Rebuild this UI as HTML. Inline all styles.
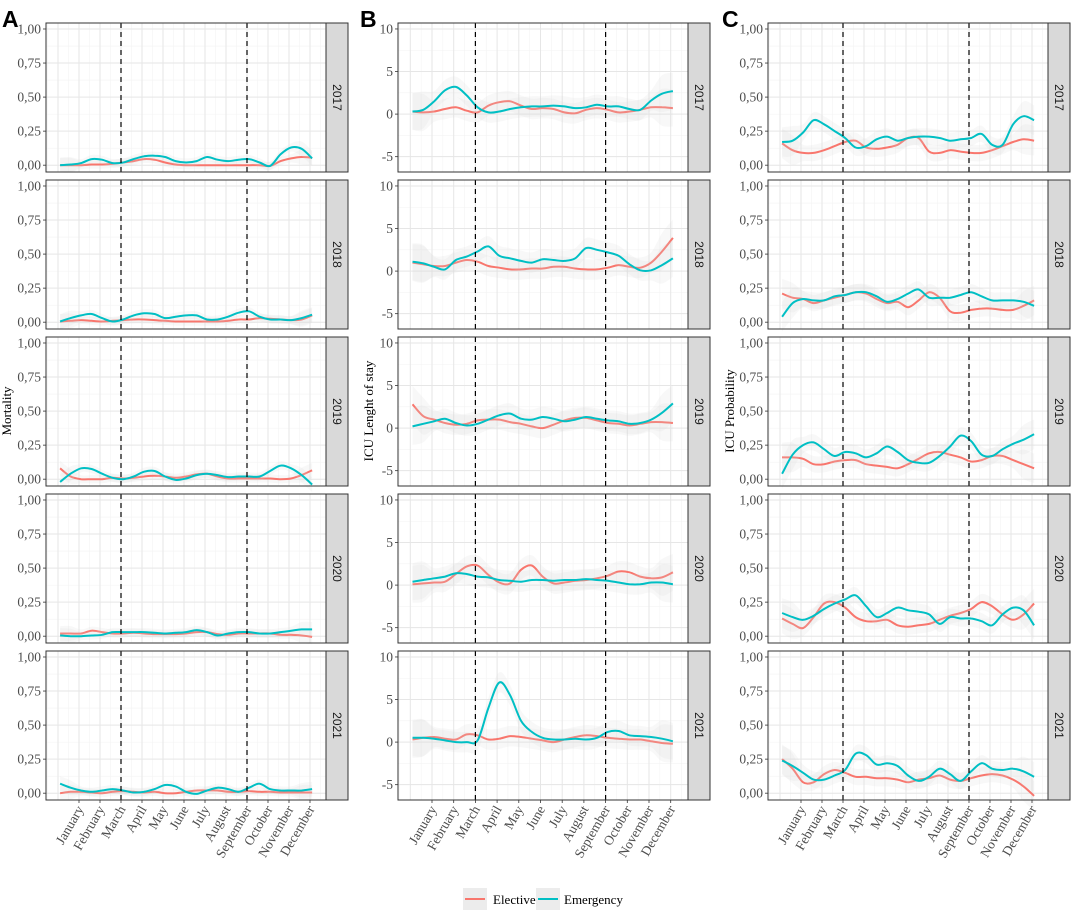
<!DOCTYPE html>
<html><head><meta charset="utf-8">
<style>
body{margin:0;background:#fff;}
svg{display:block;font-family:"Liberation Serif",serif;}
.lbl{font-family:"Liberation Sans",sans-serif;font-weight:bold;font-size:23px;fill:#000;}
</style></head>
<body>
<svg id="fig" width="1072" height="912" viewBox="0 0 1072 912" xmlns="http://www.w3.org/2000/svg"></svg>
<script>
const months = ["January","February","March","April","May","June","July","August","September","October","November","December"];
const years = ["2017","2018","2019","2020","2021"];
const knotMonths = [0.1,0.6,1.1,1.6,2.1,2.6,3.1,3.6,4.1,4.6,5.1,5.6,6.1,6.6,7.1,7.6,8.1,8.6,9.1,9.6,10.1,10.6,11.1,11.6,12.1];
const dashedMonths = [3,9];
const ticksA = [0,0.25,0.5,0.75,1];
const tickLabelsA = ["0,00","0,25","0,50","0,75","1,00"];
const ticksB = [-5,0,5,10];
const tickLabelsB = ["-5","0","5","10"];
// Panel A: Mortality
const mortEmer2017=[0,0.005,0.015,0.045,0.04,0.015,0.02,0.045,0.065,0.07,0.06,0.03,0.02,0.03,0.06,0.04,0.03,0.04,0.045,0.02,-0.005,0.08,0.13,0.12,0.05];
const mortElec2017=[0,0,0,0.005,0.005,0.01,0.02,0.03,0.045,0.04,0.02,0.005,0,0,0,0,0,0,0,0,-0.005,0.03,0.05,0.06,0.055];
const mortEmer2018=[0.005,0.03,0.05,0.06,0.03,0.005,0.02,0.05,0.065,0.06,0.03,0.04,0.05,0.05,0.02,0.02,0.04,0.07,0.08,0.04,0.02,0.02,0.015,0.03,0.055];
const mortElec2018=[0.005,0.01,0.015,0.01,0.005,0.01,0.015,0.02,0.02,0.015,0.01,0.005,0.005,0.005,0.005,0.005,0.01,0.02,0.02,0.03,0.025,0.02,0.015,0.02,0.05];
const mortEmer2019=[-0.02,0.04,0.08,0.075,0.04,0.01,0,0.02,0.055,0.06,0.02,-0.005,0.005,0.03,0.04,0.03,0.015,0.02,0.02,0.02,0.06,0.1,0.08,0.03,-0.04];
const mortElec2019=[0.08,0.02,0,0,0,0.01,0.005,0.01,0.02,0.025,0.02,0.01,0.02,0.035,0.04,0.02,0.005,0.005,0.005,0.005,0.005,0,0.005,0.03,0.065];
const mortEmer2020=[0.005,0,0,0.005,0.01,0.03,0.03,0.03,0.03,0.025,0.02,0.025,0.03,0.045,0.03,0.005,0.02,0.03,0.03,0.02,0.02,0.03,0.04,0.05,0.05];
const mortElec2020=[0.02,0.02,0.02,0.04,0.03,0.02,0.02,0.025,0.02,0.015,0.015,0.015,0.02,0.03,0.03,0.015,0.01,0.02,0.02,0.02,0.02,0.01,0.01,0.005,-0.005];
const mortEmer2021=[0.07,0.04,0.02,0.01,0.02,0.03,0.02,0.005,0.01,0.03,0.06,0.05,0.01,-0.005,0.02,0.04,0.03,0.01,0.04,0.07,0.03,0.02,0.02,0.02,0.03];
const mortElec2021=[0,0.01,0.01,0.005,0,0.01,0.015,0.01,0.005,0.01,0,0,0.01,0.02,0.02,0.02,0.01,0.01,0.015,0.01,0.01,0.005,0.005,0.005,0.005];
// Panel B: ICU length of stay
const losEmer2017=[0.3,0.5,1.5,2.8,3.2,2.2,0.8,0.2,0.3,0.6,0.8,0.9,0.9,1.0,0.9,0.7,0.8,1.1,0.9,0.9,0.6,0.5,1.6,2.4,2.7];
const losElec2017=[0.3,0.2,0.3,0.6,0.8,0.4,0.2,1.0,1.4,1.5,1.0,0.6,0.7,0.6,0.2,0.1,0.5,0.7,0.5,0.2,0.3,0.5,0.8,0.8,0.7];
const losEmer2018=[1.1,0.9,0.5,0.2,1.3,1.7,2.3,2.9,1.8,1.5,1.2,1.0,1.4,1.3,1.2,1.5,2.7,2.5,2.2,1.8,0.8,0.1,0.1,0.7,1.5];
const losElec2018=[1.0,0.8,0.6,0.6,1.0,1.3,1.1,0.6,0.4,0.2,0.2,0.3,0.3,0.5,0.5,0.3,0.2,0.2,0.4,0.7,0.5,0.4,1.0,2.3,3.9];
const losEmer2019=[0.2,0.5,0.8,1.1,0.6,0.3,0.5,1.0,1.5,1.7,1.1,1.0,1.3,1.1,0.8,1.0,1.3,1.1,0.9,0.8,0.5,0.6,1.0,1.8,2.9];
const losElec2019=[2.8,1.4,1.0,0.6,0.4,0.5,0.9,1.0,1.0,0.7,0.5,0.2,0.0,0.4,0.9,1.2,1.2,0.9,0.6,0.5,0.3,0.5,0.7,0.7,0.6];
const losEmer2020=[0.4,0.6,0.8,1.0,1.4,1.3,1.0,0.9,0.6,0.5,0.4,0.6,0.6,0.5,0.6,0.6,0.7,0.6,0.5,0.3,0.1,0.1,0.3,0.3,0.1];
const losElec2020=[0.1,0.2,0.3,0.4,1.3,2.2,2.3,1.2,0.3,0.2,1.8,2.3,1.0,0.2,0.3,0.5,0.6,0.8,1.1,1.6,1.5,1.0,0.8,0.9,1.5];
const losEmer2021=[0.5,0.5,0.4,0.2,0.0,0.0,0.2,4.0,7.0,5.5,2.5,1.2,0.5,0.3,0.3,0.4,0.3,0.5,1.2,1.3,0.8,0.7,0.6,0.4,0.1];
const losElec2021=[0.3,0.5,0.6,0.4,0.3,0.9,0.8,0.3,0.4,0.7,0.6,0.4,0.2,0.0,0.3,0.6,0.8,0.7,0.5,0.4,0.3,0.3,0.1,-0.1,-0.2];
// Panel C: ICU probability
const probEmer2017=[0.17,0.18,0.24,0.33,0.30,0.25,0.20,0.13,0.14,0.19,0.21,0.18,0.20,0.21,0.21,0.20,0.18,0.19,0.20,0.23,0.15,0.15,0.30,0.36,0.33];
const probElec2017=[0.16,0.11,0.09,0.09,0.11,0.14,0.17,0.18,0.13,0.12,0.13,0.15,0.20,0.20,0.10,0.09,0.11,0.10,0.09,0.09,0.11,0.14,0.17,0.19,0.18];
const probEmer2018=[0.04,0.14,0.17,0.16,0.16,0.19,0.20,0.22,0.22,0.19,0.15,0.17,0.21,0.24,0.18,0.18,0.18,0.20,0.22,0.19,0.16,0.16,0.16,0.15,0.12];
const probElec2018=[0.21,0.18,0.17,0.14,0.16,0.18,0.20,0.22,0.21,0.17,0.14,0.15,0.11,0.16,0.22,0.18,0.08,0.07,0.09,0.10,0.10,0.09,0.09,0.12,0.16];
const probEmer2019=[0.04,0.18,0.25,0.27,0.22,0.17,0.20,0.19,0.16,0.19,0.24,0.20,0.14,0.12,0.12,0.17,0.24,0.32,0.28,0.18,0.17,0.22,0.26,0.29,0.33];
const probElec2019=[0.16,0.16,0.15,0.11,0.11,0.13,0.14,0.14,0.11,0.10,0.09,0.08,0.11,0.15,0.19,0.20,0.18,0.16,0.13,0.14,0.17,0.17,0.14,0.11,0.08];
const probEmer2020=[0.17,0.14,0.12,0.15,0.20,0.24,0.27,0.30,0.22,0.14,0.17,0.21,0.19,0.18,0.16,0.09,0.14,0.13,0.13,0.11,0.08,0.16,0.21,0.19,0.08];
const probElec2020=[0.13,0.09,0.06,0.14,0.24,0.25,0.21,0.14,0.11,0.11,0.12,0.08,0.07,0.08,0.09,0.12,0.15,0.17,0.20,0.25,0.22,0.16,0.12,0.16,0.24];
const probEmer2021=[0.24,0.20,0.15,0.10,0.10,0.13,0.17,0.29,0.28,0.21,0.22,0.20,0.13,0.09,0.12,0.18,0.14,0.09,0.16,0.22,0.18,0.17,0.18,0.16,0.12];
const probElec2021=[0.25,0.18,0.08,0.08,0.14,0.17,0.15,0.12,0.12,0.11,0.11,0.10,0.08,0.10,0.11,0.13,0.10,0.09,0.11,0.13,0.14,0.13,0.10,0.05,-0.02];

const NS="http://www.w3.org/2000/svg";
const svg=document.getElementById('fig');
function mk(tag,attrs,parent){const e=document.createElementNS(NS,tag);for(const k in attrs)e.setAttribute(k,attrs[k]);(parent||svg).appendChild(e);return e;}
function smooth(pts){let d="M"+pts[0][0].toFixed(1)+","+pts[0][1].toFixed(1);
 for(let i=0;i<pts.length-1;i++){const p0=pts[Math.max(0,i-1)],p1=pts[i],p2=pts[i+1],p3=pts[Math.min(pts.length-1,i+2)];
  const c1=[p1[0]+(p2[0]-p0[0])/6,p1[1]+(p2[1]-p0[1])/6],c2=[p2[0]-(p3[0]-p1[0])/6,p2[1]-(p3[1]-p1[1])/6];
  d+="C"+c1[0].toFixed(1)+","+c1[1].toFixed(1)+" "+c2[0].toFixed(1)+","+c2[1].toFixed(1)+" "+p2[0].toFixed(1)+","+p2[1].toFixed(1);}
 return d;}

const panelTops=[23,180,337,494,651], PH=149;
const cols=[
 {letter:"A",lx:2,x0:46,x1:326,jan:79,step:21,ymin:-0.05,ymax:1.044,ticks:ticksA,tl:tickLabelsA,minor:0.125,title:"Mortality",tx:11,band:0.03,name:"mortality",
  emer:[mortEmer2017,mortEmer2018,mortEmer2019,mortEmer2020,mortEmer2021],elec:[mortElec2017,mortElec2018,mortElec2019,mortElec2020,mortElec2021]},
 {letter:"B",lx:360,x0:398,x1:688,jan:432,step:21.7,ymin:-6.8,ymax:10.7,ticks:ticksB,tl:tickLabelsB,minor:2.5,title:"ICU Lenght of stay",tx:373,band:1.2,name:"icu-length-of-stay",
  emer:[losEmer2017,losEmer2018,losEmer2019,losEmer2020,losEmer2021],elec:[losElec2017,losElec2018,losElec2019,losElec2020,losElec2021]},
 {letter:"C",lx:722,x0:768,x1:1048,jan:801,step:21,ymin:-0.05,ymax:1.044,ticks:ticksA,tl:tickLabelsA,minor:0.125,title:"ICU Probability",tx:734,band:0.06,name:"icu-probability",
  emer:[probEmer2017,probEmer2018,probEmer2019,probEmer2020,probEmer2021],elec:[probElec2017,probElec2018,probElec2019,probElec2020,probElec2021]}
];

cols.forEach(c=>{
 const xs=m=>c.jan+(m-1)*c.step;
 const lt=mk('text',{x:c.lx,y:27,class:'lbl'});lt.textContent=c.letter;
 
 
 const yt=mk('text',{x:c.tx,y:411,'font-size':13,fill:'#000','text-anchor':'middle',transform:`rotate(-90 ${c.tx} 411)`});
 yt.textContent=c.title;
 
 
 years.forEach((yr,r)=>{
  const top=panelTops[r],bot=top+PH;
  const ys=v=>bot-(v-c.ymin)/(c.ymax-c.ymin)*PH;
  const g=mk('g',{});
  
  
  mk('rect',{x:c.x0,y:top,width:c.x1-c.x0,height:PH,fill:'#fff'},g);
  for(let v=Math.ceil(c.ymin/c.minor)*c.minor;v<=c.ymax;v+=c.minor){mk('line',{x1:c.x0,x2:c.x1,y1:ys(v),y2:ys(v),stroke:'#f3f3f3','stroke-width':0.6},g);}
  for(let m=-0.5;m<=13.5;m+=0.5){const x=xs(m);if(x>c.x0&&x<c.x1)mk('line',{x1:x,x2:x,y1:top,y2:bot,stroke:(m%1===0)?'#e6e6e6':'#f3f3f3','stroke-width':(m%1===0)?1:0.6},g);}
  c.ticks.forEach((v,i)=>{mk('line',{x1:c.x0,x2:c.x1,y1:ys(v),y2:ys(v),stroke:'#e6e6e6','stroke-width':1},g);
   mk('line',{x1:c.x0-3,x2:c.x0,y1:ys(v),y2:ys(v),stroke:'#333','stroke-width':0.8},g);
   const t=mk('text',{x:c.x0-5,y:ys(v)+4.5,'font-size':13.5,fill:'#4d4d4d','text-anchor':'end'},g);t.textContent=c.tl[i];
   
   });
  [[c.elec[r],'#F8766D','elective'],[c.emer[r],'#00BFC4','emergency']].forEach(([vals,col,nm])=>{
   const up=vals.map((v,i)=>{const e=(i<2||i>22)?1.8:1;return [xs(knotMonths[i]),ys(v+c.band*e)];});
   const dn=vals.map((v,i)=>{const e=(i<2||i>22)?1.8:1;return [xs(knotMonths[i]),ys(v-c.band*e)];}).reverse();
   const rb=mk('path',{d:smooth(up)+"L"+smooth(dn).slice(1)+"Z",fill:'#d6d6d6','fill-opacity':0.18},g);
   
   
   const ln=mk('path',{d:smooth(vals.map((v,i)=>[xs(knotMonths[i]),ys(v)])),fill:'none',stroke:col,'stroke-width':2},g);
   
   
  });
  dashedMonths.forEach(m=>{mk('line',{x1:xs(m),x2:xs(m),y1:top,y2:bot,stroke:'#000','stroke-width':1.2,'stroke-dasharray':'5,4'},g);});
  mk('rect',{x:c.x0,y:top,width:c.x1-c.x0,height:PH,fill:'none',stroke:'#333','stroke-width':1},g);
  const st=mk('rect',{x:c.x1,y:top,width:22,height:PH,fill:'#d9d9d9',stroke:'#333','stroke-width':1},g);
  
  
  const sx=c.x1+11,sy=top+PH/2;
  const stt=mk('text',{x:sx,y:sy,'font-size':12,fill:'#1a1a1a','text-anchor':'middle','dominant-baseline':'central',transform:`rotate(90 ${sx} ${sy})`,'font-family':'Liberation Sans, sans-serif'},g);
  stt.textContent=yr;
  
  
  if(r===4){
   months.forEach((mn,i)=>{const x=xs(i+1);
    mk('line',{x1:x,x2:x,y1:bot,y2:bot+3,stroke:'#333','stroke-width':0.8},g);
    const t=mk('text',{x:x+5,y:bot+9,'font-size':13.5,fill:'#4d4d4d','text-anchor':'end',transform:`rotate(-60 ${x+5} ${bot+9})`},g);
    t.textContent=mn;
    
    });
  }
 });
});
const lg=mk('g',{});


[[463,'#F8766D','Elective',493],[536,'#00BFC4','Emergency',564]].forEach(([x,col,txt,tx])=>{
 const e=mk('g',{},lg);
 
 
 mk('rect',{x:x,y:888,width:24,height:22,fill:'#ececec'},e);
 mk('line',{x1:x+2,x2:x+22,y1:899,y2:899,stroke:col,'stroke-width':2},e);
 const t=mk('text',{x:tx,y:904,'font-size':13,fill:'#000'},e);t.textContent=txt;
});
</script>
</body></html>
